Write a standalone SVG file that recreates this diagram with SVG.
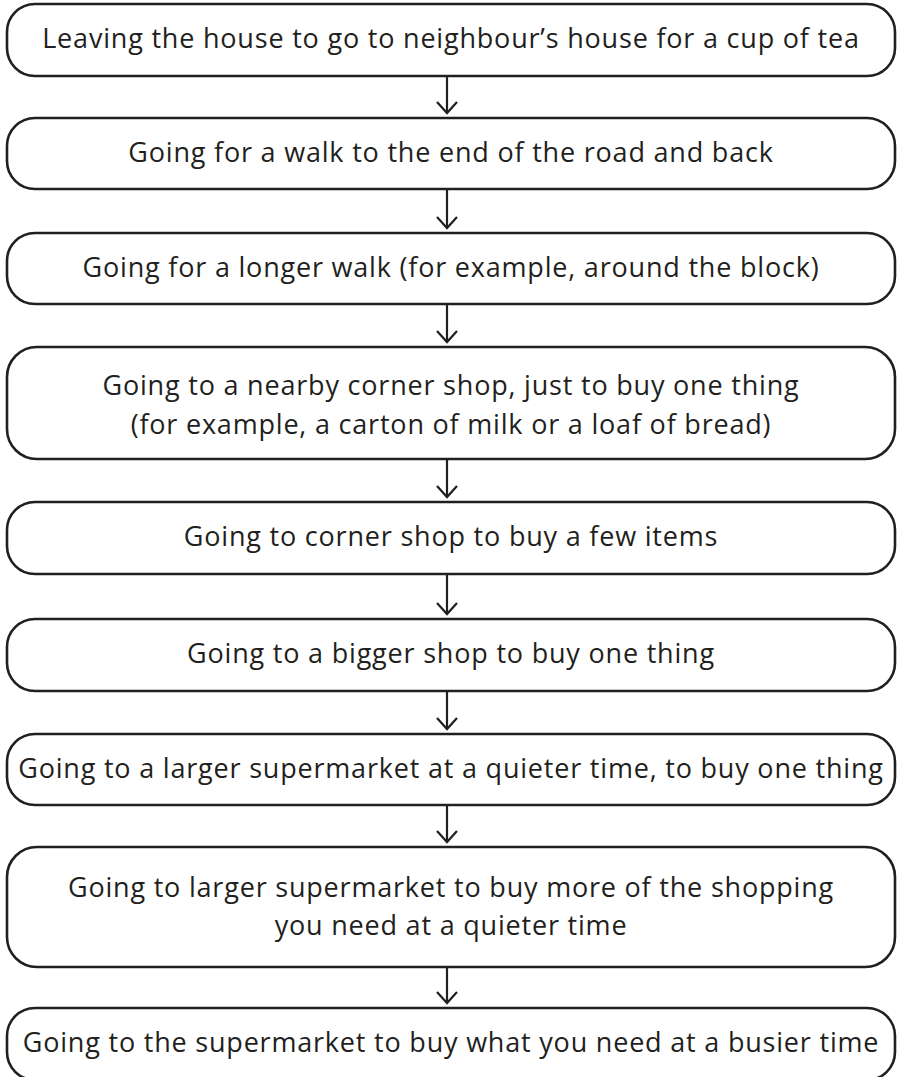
<svg xmlns="http://www.w3.org/2000/svg" width="898" height="1077" viewBox="0 0 898 1077">
<defs>
<style>
.box{fill:#fff;stroke:#231f20;stroke-width:2.6}
.t{font-family:"Open Sans","Liberation Sans",sans-serif;font-size:27px;letter-spacing:0.8px;fill:#231f20;text-anchor:middle}
.c{stroke:#231f20;stroke-width:2.2;fill:none}
</style>
<marker id="ah" viewBox="0 0 14 24" refX="12" refY="12" markerWidth="14" markerHeight="24" markerUnits="userSpaceOnUse" orient="auto">
<path d="M1,2 L12,12 L1,22" fill="none" stroke="#231f20" stroke-width="2.2"/>
</marker>
</defs>
<rect width="898" height="1077" fill="#fff"/>
<g id="connectors">
<line class="c" x1="447" y1="76" x2="447" y2="113" marker-end="url(#ah)"/>
<line class="c" x1="447" y1="189" x2="447" y2="228" marker-end="url(#ah)"/>
<line class="c" x1="447" y1="304" x2="447" y2="342" marker-end="url(#ah)"/>
<line class="c" x1="447" y1="459" x2="447" y2="497" marker-end="url(#ah)"/>
<line class="c" x1="447" y1="574" x2="447" y2="614" marker-end="url(#ah)"/>
<line class="c" x1="447" y1="691" x2="447" y2="729" marker-end="url(#ah)"/>
<line class="c" x1="447" y1="805" x2="447" y2="842" marker-end="url(#ah)"/>
<line class="c" x1="447" y1="967" x2="447" y2="1003" marker-end="url(#ah)"/>
</g>
<g id="n1"><rect class="box" x="7" y="4" width="888" height="72" rx="28"/><text class="t" x="451" y="48">Leaving the house to go to neighbour’s house for a cup of tea</text></g>
<g id="n2"><rect class="box" x="7" y="118" width="888" height="71" rx="28"/><text class="t" x="451" y="162">Going for a walk to the end of the road and back</text></g>
<g id="n3"><rect class="box" x="7" y="233" width="888" height="71" rx="28"/><text class="t" x="451" y="277">Going for a longer walk (for example, around the block)</text></g>
<g id="n4"><rect class="box" x="7" y="347" width="888" height="112" rx="30"/><text class="t" x="451" y="395">Going to a nearby corner shop, just to buy one thing</text><text class="t" x="451" y="434">(for example, a carton of milk or a loaf of bread)</text></g>
<g id="n5"><rect class="box" x="7" y="502" width="888" height="72" rx="28"/><text class="t" x="451" y="546">Going to corner shop to buy a few items</text></g>
<g id="n6"><rect class="box" x="7" y="619" width="888" height="72" rx="28"/><text class="t" x="451" y="663">Going to a bigger shop to buy one thing</text></g>
<g id="n7"><rect class="box" x="7" y="734" width="888" height="71" rx="28"/><text class="t" x="451" y="778">Going to a larger supermarket at a quieter time, to buy one thing</text></g>
<g id="n8"><rect class="box" x="7" y="847" width="888" height="120" rx="30"/><text class="t" x="451" y="897">Going to larger supermarket to buy more of the shopping</text><text class="t" x="451" y="935">you need at a quieter time</text></g>
<g id="n9"><rect class="box" x="7" y="1008" width="888" height="72" rx="28"/><text class="t" x="451" y="1052">Going to the supermarket to buy what you need at a busier time</text></g>
</svg>
